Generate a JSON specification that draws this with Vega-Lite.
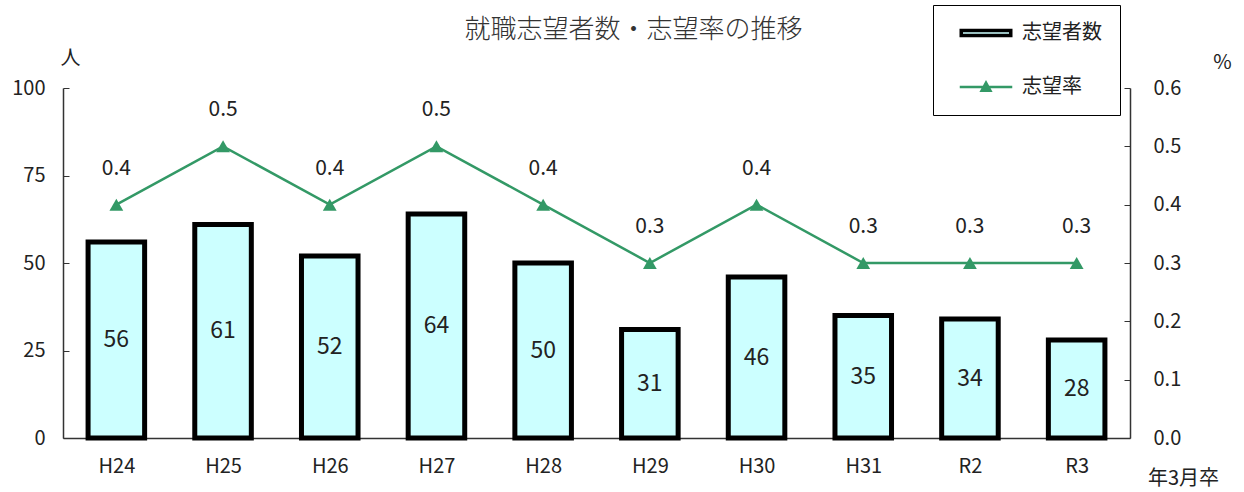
{
  "$schema": "https://vega.github.io/schema/vega-lite/v6.json",
  "autosize": {"type": "none"},
  "width": 1067,
  "height": 350,
  "padding": {"left": 63, "top": 88, "right": 114, "bottom": 54},
  "background": "white",
  "config": {
    "view": {"stroke": null},
    "font": "Noto Sans CJK JP",
    "axis": {"labelFont": "Noto Sans CJK JP", "titleFont": "Noto Sans CJK JP", "labelColor": "#222", "titleColor": "#222", "domainColor": "#333", "tickColor": "#333", "grid": false, "titleFontWeight": "normal"},
    "legend": {
      "orient": "none", "legendX": 870, "legendY": -83, "title": null,
      "strokeColor": "black", "padding": 18, "symbolSize": 900, "rowPadding": 34,
      "labelFontSize": 20, "labelOffset": 26, "labelColor": "#222", "symbolOffset": 25,
      "labelFont": "Noto Sans CJK JP"
    }
  },
  "title": {"text": "就職志望者数・志望率の推移", "fontSize": 26, "fontWeight": 300, "color": "#333", "anchor": "middle", "dx": 37, "offset": 0, "dy": 38, "font": "Noto Sans CJK JP"},
  "data": {"values": [
    {"year": "H24", "count": 56, "rate": 0.4},
    {"year": "H25", "count": 61, "rate": 0.5},
    {"year": "H26", "count": 52, "rate": 0.4},
    {"year": "H27", "count": 64, "rate": 0.5},
    {"year": "H28", "count": 50, "rate": 0.4},
    {"year": "H29", "count": 31, "rate": 0.3},
    {"year": "H30", "count": 46, "rate": 0.4},
    {"year": "H31", "count": 35, "rate": 0.3},
    {"year": "R2", "count": 34, "rate": 0.3},
    {"year": "R3", "count": 28, "rate": 0.3}
  ]},
  "encoding": {
    "x": {"field": "year", "type": "nominal", "sort": null,
      "scale": {"paddingInner": 0.47, "paddingOuter": 0.235},
      "axis": {"title": "年3月卒", "titleFontSize": 20, "titleX": 1120, "titleY": 40, "titleAlign": "center", "titleBaseline": "middle", "titleAnchor": null,
        "labelAngle": 0, "labelFontSize": 20, "labelPadding": 24, "tickBand": "extent", "ticks": true, "tickSize": -6, "domainWidth": 1.5}}
  },
  "layer": [
    {
      "mark": {"type": "bar", "fill": "#CCFFFF", "strokeWidth": 5},
      "encoding": {
        "y": {"field": "count", "type": "quantitative", "scale": {"domain": [0, 100]},
          "axis": {"values": [0, 25, 50, 75, 100], "title": "人", "titleAngle": 0, "titleX": 7, "titleY": -30, "titleAlign": "center", "titleBaseline": "middle", "titleFontSize": 20,
            "labelFontSize": 20, "labelPadding": 24, "tickSize": -6, "domainWidth": 1.5}},
        "stroke": {"datum": "志望者数", "type": "nominal",
          "scale": {"domain": ["志望者数", "志望率"], "range": ["black", "#339966"]},
          "legend": {
            "labelExpr": "datum.label + '         '",
            "encode": {"symbols": {"update": {
              "shape": {"signal": "datum.value === '志望者数' ? 'M-1.65,-0.17H1.65V0.17H-1.65Z' : 'M-1.75,0H1.75M-0.3,0.25L0,-0.3L0.3,0.25Z'"},
              "fill": {"signal": "datum.value === '志望者数' ? '#CCFFFF' : '#339966'"},
              "strokeWidth": {"signal": "datum.value === '志望者数' ? 3.5 : 2.5"},
              "opacity": {"value": 1},
              "fillOpacity": {"value": 1},
              "strokeOpacity": {"value": 1}
            }}}}
        }
      }
    },
    {
      "mark": {"type": "text", "fontSize": 23, "color": "#222", "baseline": "middle"},
      "encoding": {
        "y": {"field": "count", "type": "quantitative", "scale": {"domain": [0, 200]}, "axis": null},
        "text": {"field": "count", "type": "quantitative"}
      }
    },
    {
      "mark": {"type": "line", "strokeWidth": 2.5},
      "encoding": {
        "y": {"field": "rate", "type": "quantitative", "scale": {"domain": [0, 0.6]},
          "axis": {"orient": "right", "values": [0, 0.1, 0.2, 0.3, 0.4, 0.5, 0.6], "format": ".1f", "title": "%", "titleAngle": 0, "titleX": 92, "titleY": -26, "titleAlign": "center", "titleBaseline": "middle", "titleFontSize": 20,
            "labelFontSize": 20, "labelPadding": 29, "tickSize": -6, "domainWidth": 1.5}},
        "stroke": {"datum": "志望率", "type": "nominal",
          "legend": {
            "labelExpr": "datum.label + '         '",
            "encode": {"symbols": {"update": {
              "shape": {"signal": "datum.value === '志望者数' ? 'M-1.65,-0.17H1.65V0.17H-1.65Z' : 'M-1.75,0H1.75M-0.3,0.25L0,-0.3L0.3,0.25Z'"},
              "fill": {"signal": "datum.value === '志望者数' ? '#CCFFFF' : '#339966'"},
              "strokeWidth": {"signal": "datum.value === '志望者数' ? 3.5 : 2.5"},
              "opacity": {"value": 1},
              "fillOpacity": {"value": 1},
              "strokeOpacity": {"value": 1}
            }}}}}
      }
    },
    {
      "mark": {"type": "point", "shape": "triangle-up", "filled": true, "size": 190, "opacity": 1, "color": "#339966"},
      "encoding": {
        "y": {"field": "rate", "type": "quantitative", "scale": {"domain": [0, 0.6]}, "axis": null}
      }
    },
    {
      "mark": {"type": "text", "fontSize": 21, "color": "#222", "baseline": "middle", "dy": -36},
      "encoding": {
        "y": {"field": "rate", "type": "quantitative", "scale": {"domain": [0, 0.6]}, "axis": null},
        "text": {"field": "rate", "type": "quantitative", "format": ".1f"}
      }
    }
  ],
  "resolve": {"scale": {"y": "independent"}}
}
